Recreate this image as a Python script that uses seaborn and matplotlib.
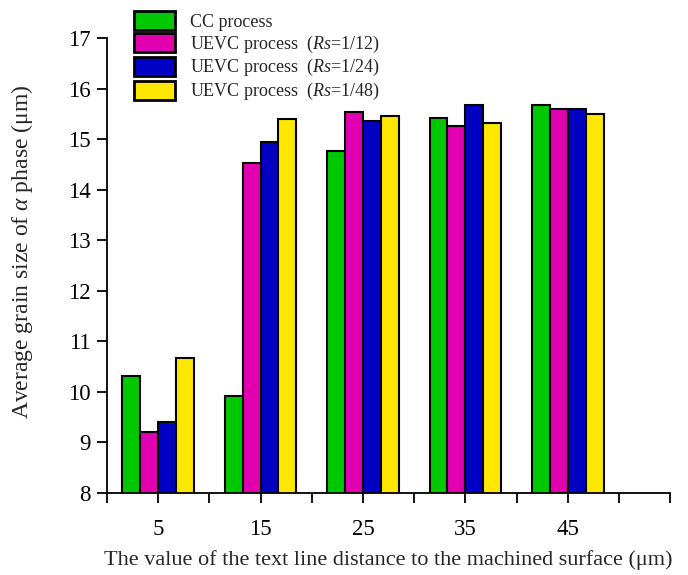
import numpy as np
import pandas as pd
import matplotlib
matplotlib.use("Agg")
import matplotlib.pyplot as plt
import seaborn as sns

distances = [5, 15, 25, 35, 45]
processes = [
    "CC process",
    "UEVC process  ($\\it{Rs}$=1/12)",
    "UEVC process  ($\\it{Rs}$=1/24)",
    "UEVC process  ($\\it{Rs}$=1/48)",
]
cc = [10.32, 9.92, 14.77, 15.42, 15.68]
uevc_12 = [9.21, 14.52, 15.54, 15.25, 15.59]
uevc_24 = [9.41, 14.95, 15.36, 15.67, 15.60]
uevc_48 = [10.67, 15.40, 15.46, 15.32, 15.50]
colors = ["#00C800", "#E000B0", "#0000C4", "#FFE800"]

rows = []
for proc, vals in zip(processes, [cc, uevc_12, uevc_24, uevc_48]):
    for d, v in zip(distances, vals):
        rows.append({"distance": d, "size": v, "process": proc})
df = pd.DataFrame(rows)

sns.set_style("ticks")
plt.rcParams["font.family"] = ["Liberation Serif", "DejaVu Serif"]
plt.rcParams["mathtext.fontset"] = "custom"
plt.rcParams["mathtext.rm"] = "Liberation Serif"
plt.rcParams["mathtext.it"] = "Liberation Serif:italic"

fig = plt.figure(figsize=(6.88, 5.75), dpi=100)
ax = fig.add_axes([0.1555, 0.1426, 0.8185, 0.7914])

sns.barplot(
    data=df, x="distance", y="size", hue="process", hue_order=processes,
    palette=colors, native_scale=True, width=0.7, gap=0,
    edgecolor="black", linewidth=1.5, saturation=1, ax=ax,
)

ax.set_xlim(0, 55)
ax.set_ylim(8, 17)
ticks = np.arange(0, 56, 5)
ax.set_xticks(ticks)
ax.set_xticklabels([str(t) if t in distances else "" for t in ticks])
ax.set_yticks(range(8, 18))
ax.tick_params(axis="both", direction="out", length=7, width=1.3, labelsize=16.5,
               colors="black")
ax.tick_params(axis="x", pad=12)
ax.tick_params(axis="y", pad=5)
for side in ["top", "right"]:
    ax.spines[side].set_visible(False)
for side in ["left", "bottom"]:
    ax.spines[side].set_linewidth(1.3)
    ax.spines[side].set_color("black")

ax.set_xlabel("The value of the text line distance to the machined surface (μm)",
              fontsize=16, labelpad=7)
ax.set_ylabel("Average grain size of $\\it{α}$ phase (μm)", fontsize=17)
ax.yaxis.set_label_coords(-0.127, 0.53)

handles, _ = ax.get_legend_handles_labels()
for h in handles:
    h.set_linewidth(2)
leg = ax.legend(handles, processes, loc="upper left", bbox_to_anchor=(0.035, 1.075),
                frameon=False, fontsize=13, handlelength=2.3, handleheight=1.25,
                labelspacing=0.12, handletextpad=0.8, borderaxespad=0)

fig.savefig("out.png", dpi=100)
